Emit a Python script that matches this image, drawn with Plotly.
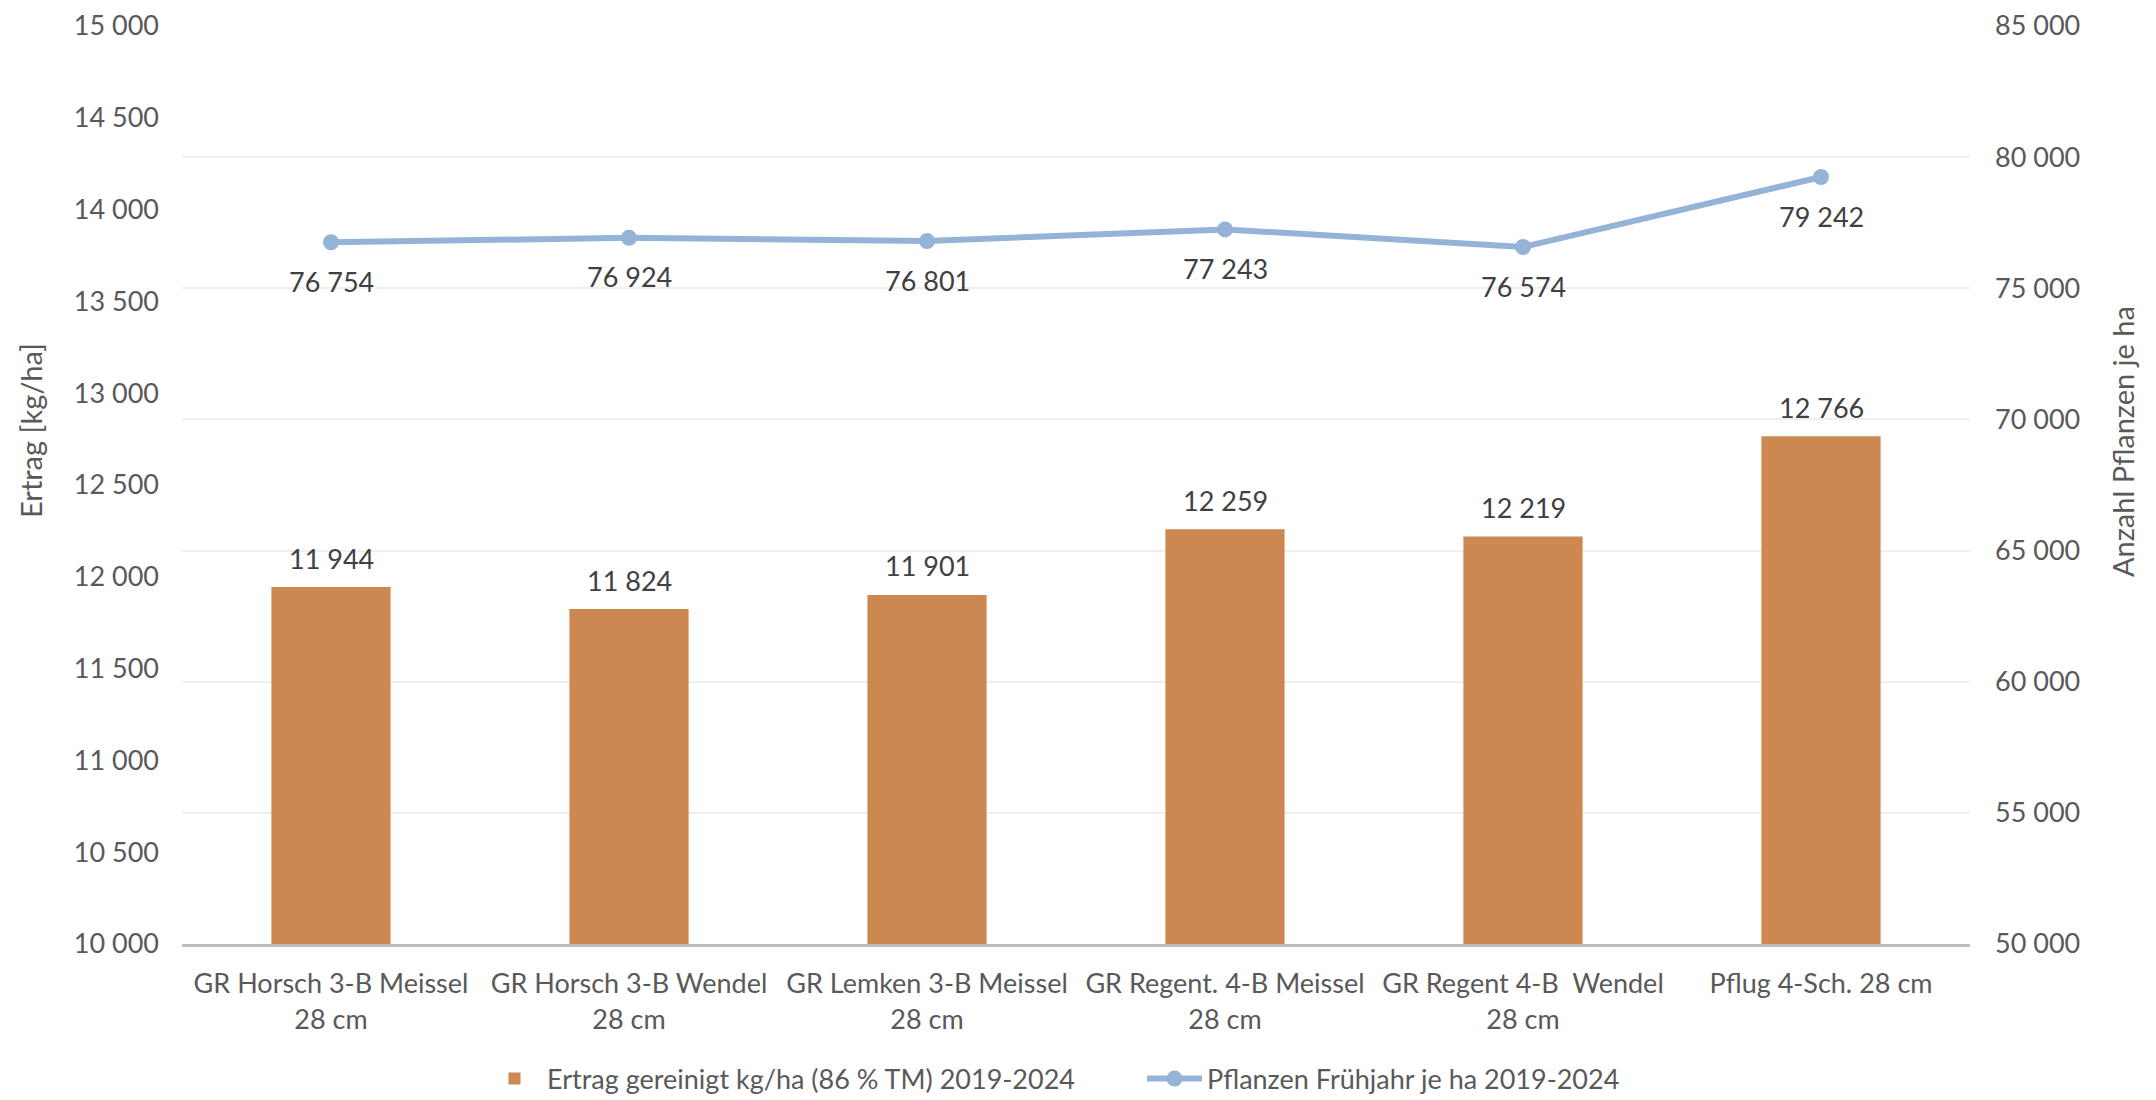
import plotly.graph_objects as go

categories = [
    "GR Horsch 3-B Meissel<br>28 cm",
    "GR Horsch 3-B Wendel<br>28 cm",
    "GR Lemken 3-B Meissel<br>28 cm",
    "GR Regent. 4-B Meissel<br>28 cm",
    "GR Regent 4-B  Wendel<br>28 cm",
    "Pflug 4-Sch. 28 cm",
]
ertrag = [11944, 11824, 11901, 12259, 12219, 12766]
pflanzen = [76754, 76924, 76801, 77243, 76574, 79242]

bar_name = "Ertrag gereinigt kg/ha (86 % TM) 2019-2024"
line_name = "Pflanzen Frühjahr je ha 2019-2024"

FONT = "Lato"
FS = 27
# page body adds an 8px offset, so the figure is 8px smaller than the window
W, H = 2148, 1092
L, R, T, B = 174, 186, 18, 156
PW, PH = W - L - R, H - T - B


def fmt(v):
    return f"{v:,}".replace(",", " ")


fig = go.Figure()
fig.add_trace(go.Bar(
    x=categories, y=ertrag, name=bar_name,
    marker=dict(color="#CC8850", line=dict(width=0)),
    yaxis="y",
))
fig.add_trace(go.Scatter(
    x=categories, y=pflanzen, name=line_name, yaxis="y2",
    mode="lines+markers",
    line=dict(color="#95B3D7", width=6),
    marker=dict(color="#95B3D7", size=16),
    cliponaxis=False,
))

annotations = []
for c, v in zip(categories, ertrag):
    annotations.append(dict(x=c, y=v, xref="x", yref="y", text=fmt(v), showarrow=False,
                            yshift=29, font=dict(size=FS, color="#404040", family=FONT)))
for c, v in zip(categories, pflanzen):
    annotations.append(dict(x=c, y=v, xref="x", yref="y2", text=fmt(v), showarrow=False,
                            yshift=-39, font=dict(size=FS, color="#404040", family=FONT)))
annotations.append(dict(text="Ertrag [kg/ha]", xref="paper", yref="paper",
                        x=(22 - L) / PW, y=(H - B - 423) / PH, textangle=-90,
                        showarrow=False, font=dict(size=29, color="#595959", family=FONT),
                        xanchor="center", yanchor="middle"))
annotations.append(dict(text="Anzahl Pflanzen je ha", xref="paper", yref="paper",
                        x=(2114 - L) / PW, y=(H - B - 434) / PH, textangle=-90,
                        showarrow=False, font=dict(size=29, color="#595959", family=FONT),
                        xanchor="center", yanchor="middle"))

fig.update_layout(
    width=W, height=H,
    margin=dict(l=L, r=R, t=T, b=B, autoexpand=False),
    paper_bgcolor="white", plot_bgcolor="white",
    separators=". ",
    font=dict(family=FONT, size=FS, color="#595959"),
    bargap=0.6,
    showlegend=True,
    legend=dict(orientation="h", x=(474 - L) / PW, xanchor="left",
                y=(H - B - 1071) / PH, yanchor="middle",
                font=dict(size=FS, color="#595959", family=FONT), itemwidth=55,
                entrywidth=590, entrywidthmode="pixels",
                traceorder="normal"),
    xaxis=dict(showline=True, linecolor="#BFBFBF", linewidth=3, ticks="",
               tickfont=dict(size=FS, color="#595959"), showgrid=False,
               ticklabelstandoff=14, automargin=False, ticklabeloverflow="allow"),
    yaxis=dict(range=[10000, 15000], dtick=500, tickformat=",d", showgrid=False,
               zeroline=False, showline=False, ticks="", automargin=False,
               ticklabeloverflow="allow",
               tickfont=dict(size=FS, color="#595959"), ticklabelstandoff=22),
    yaxis2=dict(range=[50000, 85000], dtick=5000, tickformat=",d", overlaying="y",
                side="right", showgrid=True, gridcolor="#EFEFEF", gridwidth=2,
                zeroline=False, showline=False, ticks="", automargin=False,
                ticklabeloverflow="allow",
                tickfont=dict(size=FS, color="#595959"), ticklabelstandoff=24),
    annotations=annotations,
)

fig.write_html("out.html")
